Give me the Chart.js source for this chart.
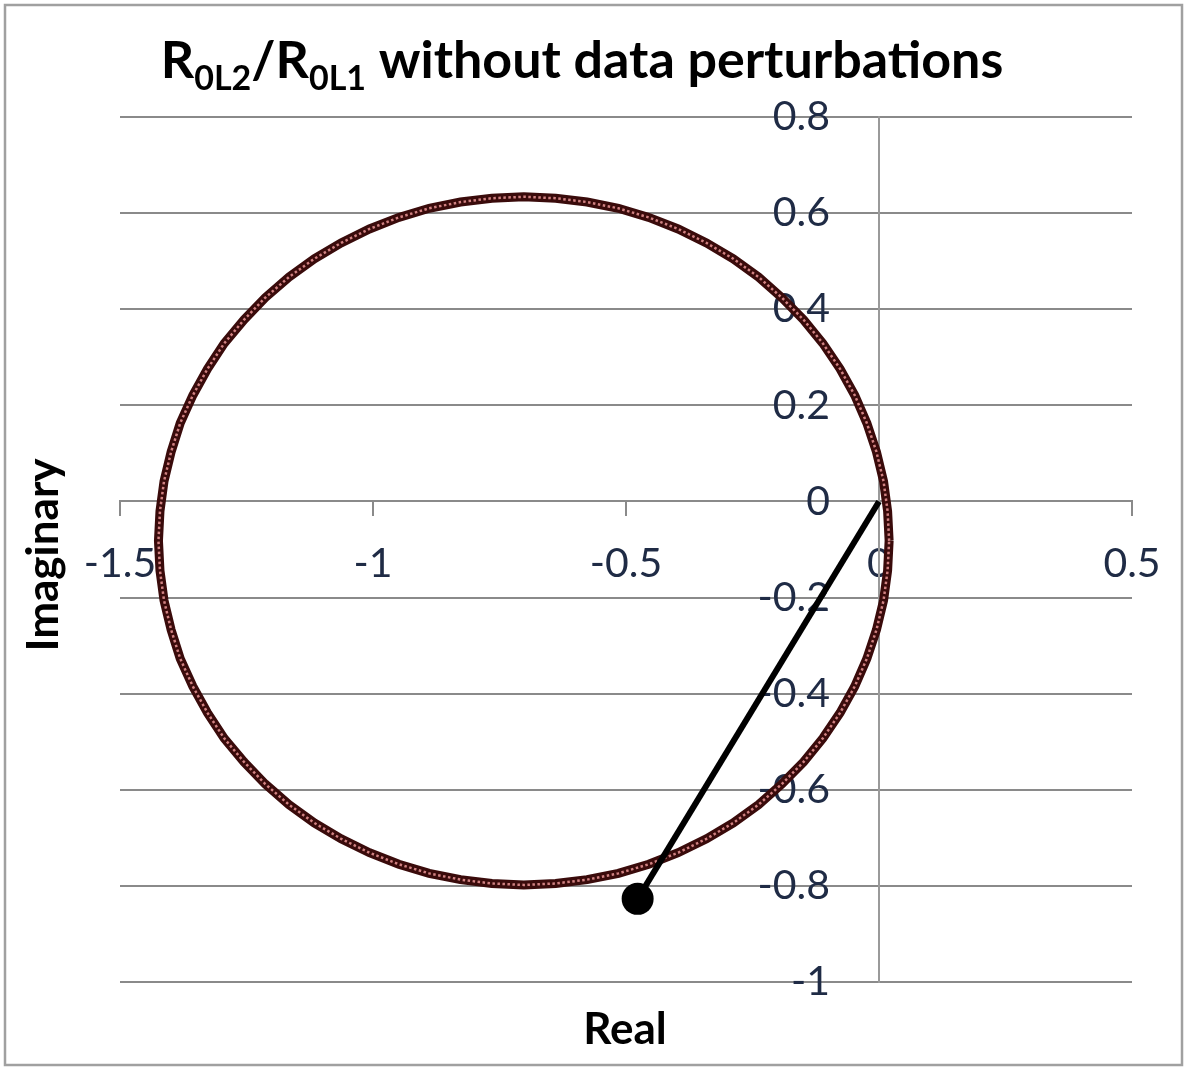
<!DOCTYPE html>
<html>
<head>
<meta charset="utf-8">
<title>R0L2/R0L1 without data perturbations</title>
<script src="https://cdn.jsdelivr.net/npm/chart.js@4.4.1/dist/chart.umd.min.js"></script>
<style>
  html, body { margin: 0; padding: 0; background: #fff; }
  canvas { display: block; }
</style>
</head>
<body>
<canvas id="chart" width="1188" height="1069"></canvas>
<script>
// locus of R0L2/R0L1 (every ~5 degrees round the circle)
const circleRe = [0.020, 0.017, 0.009, -0.005, -0.024, -0.048, -0.077, -0.111, -0.149, -0.192,
  -0.238, -0.288, -0.341, -0.397, -0.455, -0.515, -0.577, -0.639, -0.702,
  -0.765, -0.827, -0.889, -0.949, -1.007, -1.063, -1.116, -1.166, -1.213, -1.255,
  -1.294, -1.327, -1.356, -1.381, -1.399, -1.413, -1.421, -1.424,
  -1.421, -1.413, -1.399, -1.381, -1.356, -1.327, -1.294, -1.255, -1.213,
  -1.166, -1.116, -1.063, -1.007, -0.949, -0.889, -0.827, -0.765, -0.702,
  -0.639, -0.577, -0.515, -0.455, -0.397, -0.341, -0.288, -0.238, -0.192,
  -0.149, -0.111, -0.077, -0.048, -0.024, -0.005, 0.009, 0.017, 0.020];
const circleIm = [-0.082, -0.020, 0.042, 0.103, 0.163, 0.221, 0.276, 0.329, 0.378, 0.424,
  0.467, 0.505, 0.538, 0.567, 0.591, 0.610, 0.623, 0.631, 0.634,
  0.631, 0.623, 0.610, 0.591, 0.567, 0.538, 0.505, 0.467, 0.424, 0.378,
  0.329, 0.276, 0.221, 0.163, 0.103, 0.042, -0.020, -0.082,
  -0.144, -0.206, -0.267, -0.327, -0.385, -0.440, -0.493, -0.542, -0.588,
  -0.631, -0.669, -0.702, -0.731, -0.755, -0.774, -0.787, -0.795, -0.798,
  -0.795, -0.787, -0.774, -0.755, -0.731, -0.702, -0.669, -0.631, -0.588,
  -0.542, -0.493, -0.440, -0.385, -0.327, -0.267, -0.206, -0.144, -0.082];

// phasor from the origin to the operating point
const phasorRe = [0, -0.477];
const phasorIm = [0, -0.827];

const xTicks = [-1.5, -1, -0.5, 0, 0.5];
const yTicks = [0.8, 0.6, 0.4, 0.2, 0, -0.2, -0.4, -0.6, -0.8, -1];

const titleParts = [
  { text: 'R', sub: false },
  { text: '0L2', sub: true },
  { text: '/R', sub: false },
  { text: '0L1', sub: true },
  { text: ' without data perturbations', sub: false },
];

const toPoints = (xs, ys) => xs.map((x, i) => ({ x: x, y: ys[i] }));

const gridColor = '#8a8a8a';
const tickFont = { family: 'Lato', size: 41 };
const tickColor = '#1f2b45';

// title with subscripts, axis titles and the outer frame
const chartTexts = {
  id: 'chartTexts',
  beforeDraw(chart) {
    const ctx = chart.ctx;
    ctx.save();
    ctx.strokeStyle = '#a0a0a0';
    ctx.lineWidth = 2.5;
    ctx.strokeRect(5, 5, 1177, 1060);
    ctx.restore();
  },
  afterDraw(chart) {
    const ctx = chart.ctx;
    ctx.save();
    ctx.fillStyle = '#000';
    ctx.textBaseline = 'alphabetic';
    const mainFont = 'bold 52px Lato';
    const subFont = 'bold 34px Lato';
    let total = 0;
    titleParts.forEach(p => {
      ctx.font = p.sub ? subFont : mainFont;
      total += ctx.measureText(p.text).width;
    });
    let x = 582 - total / 2;
    titleParts.forEach(p => {
      ctx.font = p.sub ? subFont : mainFont;
      ctx.textAlign = 'left';
      ctx.fillText(p.text, x, p.sub ? 90 : 78);
      x += ctx.measureText(p.text).width;
    });

    ctx.font = 'bold 44px Lato';
    ctx.textAlign = 'center';
    ctx.textBaseline = 'middle';
    ctx.fillText('Real', 625, 1030);
    ctx.translate(44, 555);
    ctx.rotate(-Math.PI / 2);
    ctx.fillText('Imaginary', 0, 0);
    ctx.restore();
  }
};

new Chart(document.getElementById('chart'), {
  type: 'scatter',
  data: {
    datasets: [
      {
        label: 'phasor',
        data: toPoints(phasorRe, phasorIm),
        showLine: true,
        borderColor: '#000',
        borderWidth: 6,
        pointRadius: [0, 16],
        pointBackgroundColor: '#000',
        pointBorderWidth: 0,
      },
      {
        label: 'locus markers',
        data: toPoints(circleRe, circleIm),
        showLine: true,
        borderColor: '#d08282',
        borderWidth: 2.5,
        borderDash: [2.5, 2.5],
        borderCapStyle: 'butt',
        pointRadius: 0,
      },
      {
        label: 'locus',
        data: toPoints(circleRe, circleIm),
        showLine: true,
        borderColor: '#3a0b0b',
        borderWidth: 9,
        pointRadius: 0,
      },
    ]
  },
  options: {
    responsive: false,
    animation: false,
    layout: { padding: { left: 120, right: 56, top: 117, bottom: 87 } },
    plugins: {
      legend: { display: false },
      tooltip: { enabled: false },
      title: { display: false },
    },
    scales: {
      x: {
        type: 'linear',
        min: -1.5,
        max: 0.5,
        position: { y: 0 },
        afterBuildTicks: s => { s.ticks = xTicks.map(v => ({ value: v })); },
        grid: { display: true, drawOnChartArea: false, drawTicks: true, tickLength: 14, color: gridColor, lineWidth: 2 },
        border: { display: true, color: gridColor, width: 2 },
        ticks: { font: tickFont, color: tickColor, padding: 24, maxRotation: 0, callback: v => String(v) },
      },
      y: {
        type: 'linear',
        min: -1,
        max: 0.8,
        position: { x: -0.097 },
        afterBuildTicks: s => { s.ticks = yTicks.map(v => ({ value: v })); },
        grid: { color: gridColor, lineWidth: 2, drawTicks: false },
        border: { display: false },
        ticks: { font: tickFont, color: tickColor, padding: 0, callback: v => String(v) },
      },
      yAxisLine: {
        type: 'linear',
        axis: 'y',
        min: -1,
        max: 0.8,
        position: { x: 0 },
        grid: { display: false },
        ticks: { display: false },
        border: { display: true, color: '#9a9a9a', width: 2 },
      },
    }
  },
  plugins: [chartTexts]
});
</script>
</body>
</html>
